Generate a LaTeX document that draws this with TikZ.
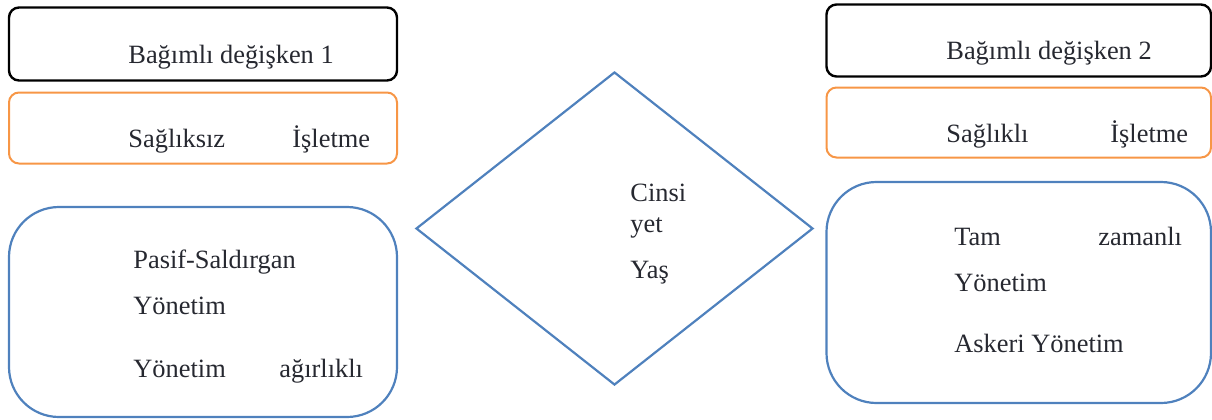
\documentclass[tikz,border=0pt]{standalone}
\usepackage{fontspec}
\setmainfont{Liberation Serif}
\usetikzlibrary{
  positioning,
  shapes.geometric
}
\definecolor{boxblue}{RGB}{79,129,189}
\definecolor{boxorange}{RGB}{247,150,70}
\definecolor{inkgray}{RGB}{38,40,48}
\newcommand{\frm}[6]{%
  \node[#6,minimum width=#4*0.5pt,minimum height=#5*0.5pt] (#1) at (#2+#4/2,#3+#5/2) {};%
}
\newcommand{\wrd}[4]{%
  \node[lbl] (#1) at (#2,#3) {#4};%
}

\begin{document}
\begin{tikzpicture}[x=0.5pt,y=-0.5pt,
  framebase/.style={draw,rectangle,inner sep=0pt,outer sep=0pt},
  blackbox/.style={framebase,black,line width=1.2pt,rounded corners=5pt},
  orangebox/.style={framebase,boxorange,line width=1pt,rounded corners=5pt},
  bluebox/.style={framebase,boxblue,line width=1.1pt,rounded corners=25pt},
  lbl/.style={anchor=base west,inner sep=0pt,text=inkgray,font=\fontsize{13.2}{15}\selectfont}]
  \useasboundingbox (0,0) rectangle (1212,419);
  % left column
  \frm{depA}{9}{7.5}{388}{73}{blackbox}
  \frm{sickA}{9}{92.5}{388}{71}{orangebox}
  \frm{mgmtA}{9}{207}{388}{210}{bluebox}
  \wrd{depAt}{128}{63}{Bağımlı değişken 1}
  \wrd{sickAa}{128}{147}{Sağlıksız}
  \wrd{sickAb}{292}{147}{İşletme}
  \wrd{mgmtAa}{133}{268}{Pasif-Saldırgan}
  \wrd{mgmtAb}{133}{314}{Yönetim}
  \wrd{mgmtAc}{133}{377}{Yönetim}
  \wrd{mgmtAd}{279}{377}{ağırlıklı}
  % middle
  \node[diamond,draw=boxblue,line width=1.1pt,inner sep=0pt,
    minimum width=397*0.5pt,minimum height=313*0.5pt] (ctrl) at (614.5,228.5) {};
  \wrd{ctrla}{630}{201}{Cinsi}
  \wrd{ctrlb}{630}{232}{yet}
  \wrd{ctrlc}{630}{278}{Yaş}
  % right column
  \frm{depB}{826.5}{4.5}{384.5}{72}{blackbox}
  \frm{healthyB}{826.5}{87.5}{384.5}{70}{orangebox}
  \frm{mgmtB}{826.5}{182}{384.5}{221}{bluebox}
  \wrd{depBt}{946}{59}{Bağımlı değişken 2}
  \wrd{healthyBa}{946}{142}{Sağlıklı}
  \wrd{healthyBb}{1110}{142}{İşletme}
  \wrd{mgmtBa}{954}{245}{Tam}
  \wrd{mgmtBb}{1098}{245}{zamanlı}
  \wrd{mgmtBc}{954}{291}{Yönetim}
  \wrd{mgmtBd}{954}{352}{Askeri Yönetim}
\end{tikzpicture}
\end{document}
